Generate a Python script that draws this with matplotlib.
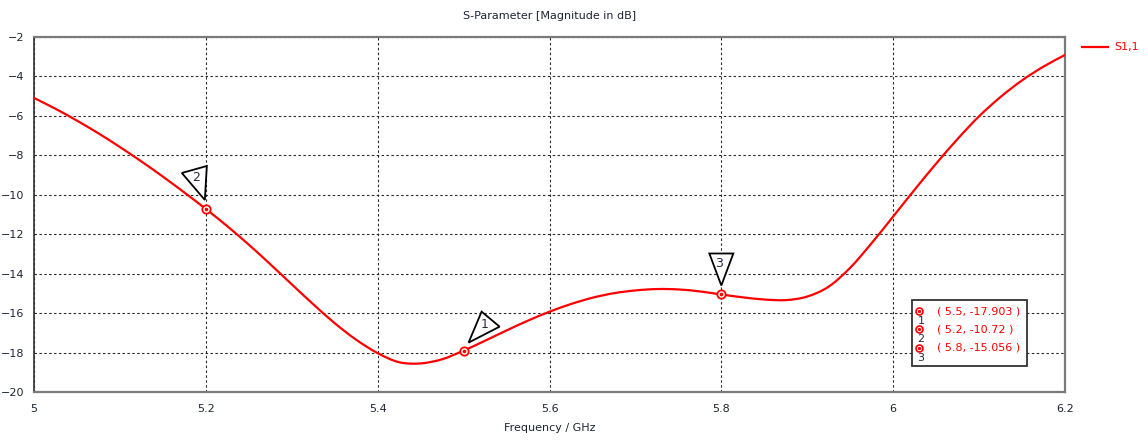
import matplotlib
matplotlib.use("Agg")
import numpy as np
import matplotlib.pyplot as plt
from matplotlib.lines import Line2D
from matplotlib.patches import Polygon, Rectangle, PathPatch
from matplotlib.path import Path
from matplotlib.transforms import Affine2D, ScaledTranslation

# S1,1 magnitude (dB) versus frequency (GHz), 25 MHz steps
freq = [5.000, 5.025, 5.050, 5.075, 5.100, 5.125, 5.150, 5.175, 5.200, 5.225,
        5.250, 5.275, 5.300, 5.325, 5.350, 5.375, 5.400, 5.425, 5.450, 5.475,
        5.500, 5.525, 5.550, 5.575, 5.600, 5.625, 5.650, 5.675, 5.700, 5.725,
        5.750, 5.775, 5.800, 5.825, 5.850, 5.875, 5.900, 5.925, 5.950, 5.975,
        6.000, 6.025, 6.050, 6.075, 6.100, 6.125, 6.150, 6.175, 6.200]
s11 = [-5.09, -5.64, -6.24, -6.885, -7.58, -8.31, -9.08, -9.885, -10.72, -11.595,
       -12.53, -13.52, -14.54, -15.55, -16.51, -17.35, -18.03, -18.49, -18.55, -18.34,
       -17.903, -17.40, -16.88, -16.38, -15.93, -15.54, -15.22, -14.99, -14.85, -14.78,
       -14.80, -14.90, -15.056, -15.20, -15.31, -15.34, -15.16, -14.655, -13.70, -12.45,
       -11.10, -9.74, -8.42, -7.17, -6.02, -5.04, -4.20, -3.50, -2.91]

# Curve markers: id, frequency, value
marker_ids = ["1", "2", "3"]
marker_freq = [5.5, 5.2, 5.8]
marker_vals = [-17.903, -10.72, -15.056]
marker_text = ["( 5.5, -17.903 )", "( 5.2, -10.72 )", "( 5.8, -15.056 )"]

xticks = [5, 5.2, 5.4, 5.6, 5.8, 6, 6.2]
xtick_labels = ["5", "5.2", "5.4", "5.6", "5.8", "6", "6.2"]
yticks = [-20, -18, -16, -14, -12, -10, -8, -6, -4, -2]

RED = "#ff0000"
TXT = "#1e2433"

W, H, DPI = 1148, 441, 100
fig = plt.figure(figsize=(W / DPI, H / DPI), dpi=DPI)
fig.patch.set_facecolor("white")
ax = fig.add_axes([34 / W, 1 - 392 / H, (1065 - 34) / W, (392 - 37) / H])


def smooth_path(xs, ys):
    """Cubic Bezier path through the given points (Catmull-Rom tangents)."""
    p = np.column_stack([xs, ys]).astype(float)
    n = len(p)
    tang = np.zeros_like(p)
    tang[1:-1] = (p[2:] - p[:-2]) / 2.0
    tang[0] = p[1] - p[0]
    tang[-1] = p[-1] - p[-2]
    verts = [p[0]]
    codes = [Path.MOVETO]
    for i in range(n - 1):
        verts += [p[i] + tang[i] / 3.0, p[i + 1] - tang[i + 1] / 3.0, p[i + 1]]
        codes += [Path.CURVE4] * 3
    return Path(verts, codes)


ax.add_patch(PathPatch(smooth_path(freq, s11), facecolor="none", edgecolor=RED,
                       lw=1.6, zorder=3, capstyle="round", joinstyle="round"))

ax.set_xlim(5, 6.2)
ax.set_ylim(-20, -2)
ax.set_xticks(xticks)
ax.set_xticklabels(xtick_labels)
ax.set_yticks(yticks)
ax.tick_params(length=0, labelsize=8, colors=TXT, pad=7)
ax.tick_params(axis="x", pad=9)
ax.grid(True, color="#2a2a2a", lw=0.8, linestyle=(0, (2.2, 2.2)))

for side in ["top", "right", "bottom"]:
    ax.spines[side].set_color("#7a7a7a")
    ax.spines[side].set_linewidth(1.6)
ax.spines["left"].set_color("#303030")
ax.spines["left"].set_linewidth(1.2)

ax.set_title("S-Parameter [Magnitude in dB]", fontsize=8, color=TXT, pad=13)
ax.set_xlabel("Frequency / GHz", fontsize=8, color=TXT, labelpad=6)

# Markers on the curve
ax.plot(marker_freq, marker_vals, "o", ms=6, mfc="white", mec=RED, mew=1.3, zorder=5)
ax.plot(marker_freq, marker_vals, "o", ms=1.6, mfc=RED, mec=RED, zorder=6)

# Pennant triangles: pixel offsets from each marker (x right, y up)
tri_shapes = {
    "1": ([(5, 8), (18, 39), (36, 24)], (21, 26)),
    "2": ([(-24, 36), (1, 43), (-1, 9)], (-10, 31)),
    "3": ([(-12, 41), (12, 41), (0, 9)], (-2, 31)),
}
px = Affine2D().scale(fig.dpi / 100.0)
for mid, fx, fy in zip(marker_ids, marker_freq, marker_vals):
    verts, lab = tri_shapes[mid]
    tr = px + ScaledTranslation(fx, fy, ax.transData)
    ax.add_patch(Polygon(verts, closed=True, fill=True, facecolor="white",
                         edgecolor="black", lw=1.3, transform=tr, zorder=7,
                         clip_on=False))
    ax.text(lab[0], lab[1], mid, transform=tr, fontsize=9, color="#2a2a40",
            ha="center", va="center", zorder=8)

# Marker readout box
box_x0, box_x1 = (912 - 34) / 1031, (1027 - 34) / 1031
box_y0, box_y1 = (392 - 366) / 355, (392 - 300) / 355
ax.add_patch(Rectangle((box_x0, box_y0), box_x1 - box_x0, box_y1 - box_y0,
                       transform=ax.transAxes, facecolor="white",
                       edgecolor="#333333", lw=1.3, zorder=9))
row_y = [311, 329, 348]
for mid, txt, ry in zip(marker_ids, marker_text, row_y):
    yy = (392 - ry) / 355
    xc = (919 - 34) / 1031
    ax.plot([xc], [yy], "o", ms=5, mfc="white", mec=RED, mew=1.2,
            transform=ax.transAxes, zorder=10, clip_on=False)
    ax.plot([xc], [yy], "o", ms=1.4, mfc=RED, mec=RED,
            transform=ax.transAxes, zorder=11, clip_on=False)
    ax.text((921 - 34) / 1031, (392 - ry - 10) / 355, mid, transform=ax.transAxes,
            fontsize=8, color="#2a2a40", ha="center", va="center", zorder=11)
    ax.text((937 - 34) / 1031, yy, txt, transform=ax.transAxes, fontsize=8,
            color=RED, ha="left", va="center", zorder=11)

# Legend outside the plot area
fig.add_artist(Line2D([1082 / W, 1108 / W], [1 - 47 / H, 1 - 47 / H],
                      color=RED, lw=1.6, transform=fig.transFigure))
fig.text(1114 / W, 1 - 47 / H, "S1,1", color=RED, fontsize=8, ha="left", va="center")

fig.savefig("out.png", dpi=DPI, facecolor="white")
